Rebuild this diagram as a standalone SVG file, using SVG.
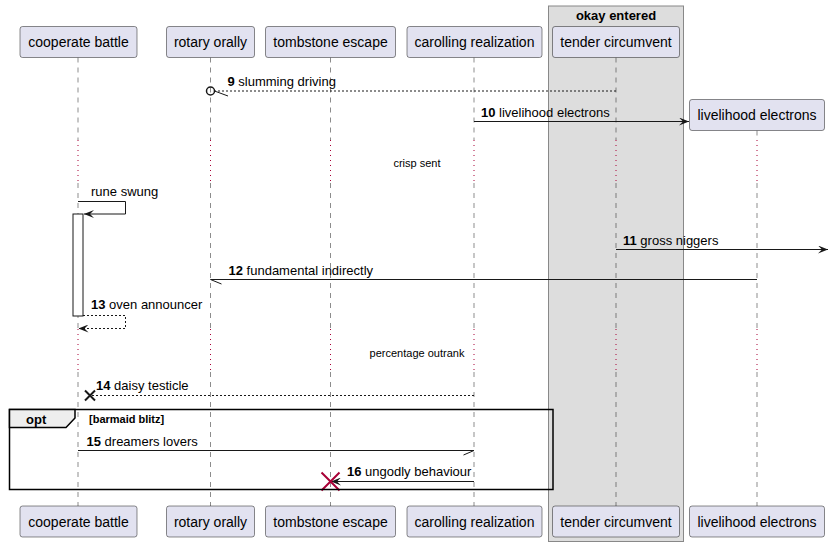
<svg xmlns="http://www.w3.org/2000/svg" width="829" height="547" viewBox="0 0 829 547">
<defs>
<style>
.pbox{fill:#E2E2F0;stroke:#181818;stroke-width:0.5}
.ptxt{font-family:"Liberation Sans",Arial,sans-serif;font-size:14px;fill:#000;text-anchor:middle}
.life{stroke:#181818;stroke-width:0.5;stroke-dasharray:5,5;fill:none}
.delay{stroke:#A80036;stroke-width:1;stroke-dasharray:1,4;fill:none}
.msg{stroke:#181818;stroke-width:1;fill:none}
.dash{stroke-dasharray:2,2}
.mtxt{font-family:"Liberation Sans",Arial,sans-serif;font-size:13px;fill:#000}
.num{font-weight:bold}
.dtxt{font-family:"Liberation Sans",Arial,sans-serif;font-size:11px;fill:#000;text-anchor:middle}
</style>
<marker id="ah" viewBox="0 0 10 8" refX="10" refY="4" markerWidth="10" markerHeight="8" markerUnits="userSpaceOnUse" orient="auto">
<path d="M0,0 L10,4 L0,8 L4,4 Z" fill="#181818"/>
</marker>
</defs>
<rect width="829" height="547" fill="#FFFFFF"/>
<g id="box-okay-entered">
<rect x="548.5" y="6" width="135" height="535.5" fill="#DDDDDD" stroke="#888888" stroke-width="1"/>
<text x="616" y="19.5" class="mtxt num" text-anchor="middle">okay entered</text>
</g>
<g id="lifelines">
<path class="life" d="M78,57.5V140M78,183V329M78,372V506"/>
<path class="life" d="M210.5,57.5V140M210.5,183V329M210.5,372V506"/>
<path class="life" d="M330.5,57.5V140M330.5,183V329M330.5,372V506"/>
<path class="life" d="M474,57.5V140M474,183V329M474,372V506"/>
<path class="life" d="M616,57.5V140M616,183V329M616,372V506"/>
<path class="life" d="M757,130.5V140M757,183V329M757,372V506"/>
<path class="delay" d="M78,140V183M210.5,140V183M330.5,140V183M474,140V183M616,140V183M757,140V183"/>
<path class="delay" d="M78,329V372M210.5,329V372M330.5,329V372M474,329V372M616,329V372M757,329V372"/>
<text x="417" y="167" class="dtxt">crisp sent</text>
<text x="417" y="357" class="dtxt">percentage outrank</text>
</g>
<g id="p-cooperate-battle">
<rect class="pbox" x="20" y="26.5" width="117" height="31" rx="2.5"/>
<text class="ptxt" x="78.5" y="47">cooperate battle</text>
<rect class="pbox" x="20" y="506" width="117" height="31" rx="2.5"/>
<text class="ptxt" x="78.5" y="526.5">cooperate battle</text>
</g>
<g id="p-rotary-orally">
<rect class="pbox" x="166.5" y="26.5" width="88" height="31" rx="2.5"/>
<text class="ptxt" x="210.5" y="47">rotary orally</text>
<rect class="pbox" x="166.5" y="506" width="88" height="31" rx="2.5"/>
<text class="ptxt" x="210.5" y="526.5">rotary orally</text>
</g>
<g id="p-tombstone-escape">
<rect class="pbox" x="265.5" y="26.5" width="130" height="31" rx="2.5"/>
<text class="ptxt" x="330.5" y="47">tombstone escape</text>
<rect class="pbox" x="265.5" y="506" width="130" height="31" rx="2.5"/>
<text class="ptxt" x="330.5" y="526.5">tombstone escape</text>
</g>
<g id="p-carolling-realization">
<rect class="pbox" x="407" y="26.5" width="135" height="31" rx="2.5"/>
<text class="ptxt" x="474.5" y="47">carolling realization</text>
<rect class="pbox" x="407" y="506" width="135" height="31" rx="2.5"/>
<text class="ptxt" x="474.5" y="526.5">carolling realization</text>
</g>
<g id="p-tender-circumvent">
<rect class="pbox" x="552.5" y="26.5" width="127" height="31" rx="2.5"/>
<text class="ptxt" x="616" y="47">tender circumvent</text>
<rect class="pbox" x="552.5" y="506" width="127" height="31" rx="2.5"/>
<text class="ptxt" x="616" y="526.5">tender circumvent</text>
</g>
<g id="p-livelihood-electrons">
<rect class="pbox" x="689.5" y="99.5" width="135" height="31" rx="2.5"/>
<text class="ptxt" x="757" y="120">livelihood electrons</text>
<rect class="pbox" x="689.5" y="506" width="135" height="31" rx="2.5"/>
<text class="ptxt" x="757" y="526.5">livelihood electrons</text>
</g>
<g id="activation">
<rect x="73" y="214" width="10" height="102" fill="#FFFFFF" stroke="#181818" stroke-width="1"/>
</g>
<g id="connectors">
<!-- 9 -->
<line class="msg dash" x1="616" y1="91" x2="214.5" y2="91"/>
<circle cx="210.5" cy="91" r="4" fill="none" stroke="#181818" stroke-width="1.5"/>
<line class="msg" x1="214.5" y1="91" x2="228" y2="96"/>
<text class="mtxt" x="227.5" y="86"><tspan class="num">9</tspan> slumming driving</text>
<!-- 10 -->
<line class="msg" x1="474" y1="121.5" x2="689" y2="121.5" marker-end="url(#ah)"/>
<text class="mtxt" x="481" y="117"><tspan class="num">10</tspan> livelihood electrons</text>
<!-- rune swung -->
<polyline class="msg" points="78,201.5 125.5,201.5 125.5,214 84,214" marker-end="url(#ah)"/>
<text class="mtxt" x="91" y="196">rune swung</text>
<!-- 11 -->
<line class="msg" x1="616" y1="249.5" x2="828" y2="249.5" marker-end="url(#ah)"/>
<text class="mtxt" x="623" y="245"><tspan class="num">11</tspan> gross niggers</text>
<!-- 12 -->
<line class="msg" x1="757" y1="279.5" x2="210.5" y2="279.5"/>
<line class="msg" x1="210.5" y1="279.5" x2="221.5" y2="284"/>
<text class="mtxt" x="228.5" y="275"><tspan class="num">12</tspan> fundamental indirectly</text>
<!-- 13 -->
<polyline class="msg dash" points="83,315.5 125.5,315.5 125.5,328.5 78.5,328.5" marker-end="url(#ah)"/>
<text class="mtxt" x="91" y="309"><tspan class="num">13</tspan> oven announcer</text>
<!-- 14 -->
<line class="msg dash" x1="474" y1="395.5" x2="91" y2="395.5"/>
<path d="M85,390.5L95,400.5M85,400.5L95,390.5" stroke="#181818" stroke-width="2" fill="none"/>
<text class="mtxt" x="96" y="390"><tspan class="num">14</tspan> daisy testicle</text>
<!-- 15 -->
<line class="msg" x1="78" y1="450.5" x2="474" y2="450.5"/>
<line class="msg" x1="474" y1="450.5" x2="463.5" y2="455"/>
<text class="mtxt" x="86.5" y="446"><tspan class="num">15</tspan> dreamers lovers</text>
<!-- 16 -->
<line class="msg" x1="474" y1="481.5" x2="331" y2="481.5" marker-end="url(#ah)"/>
<path d="M321.5,472.5L339.5,490.5M321.5,490.5L339.5,472.5" stroke="#A80036" stroke-width="2" fill="none"/>
<text class="mtxt" x="347" y="476"><tspan class="num">16</tspan> ungodly behaviour</text>
</g>
<g id="opt-frame">
<rect x="9.5" y="409.5" width="543.5" height="80" fill="none" stroke="#000000" stroke-width="1.5"/>
<polygon points="9.5,409.5 75,409.5 75,418 66,427.5 9.5,427.5" fill="#EEEEEE" stroke="#000000" stroke-width="1.5"/>
<text class="mtxt num" x="26" y="424">opt</text>
<text x="89" y="423" font-family="Liberation Sans, Arial, sans-serif" font-size="11" font-weight="bold">[barmaid blitz]</text>
</g>
</svg>
